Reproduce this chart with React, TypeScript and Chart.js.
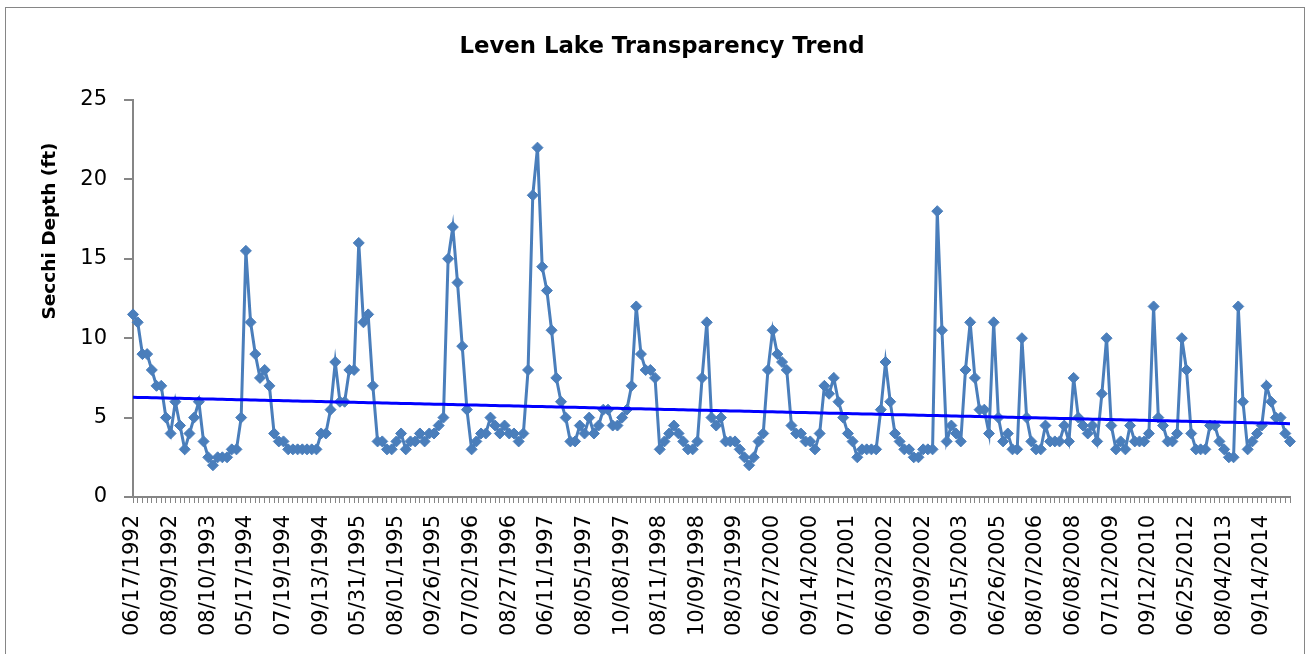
import React, { useEffect, useRef } from "react";
import { Chart, registerables } from "chart.js";

Chart.register(...registerables);

const titleText = "Leven Lake Transparency Trend";
const yAxisTitle = "Secchi Depth (ft)";

// every 8th sample date is shown on the axis
const labelEvery = 8;
const tickLabels = [
  "06/17/1992", "08/09/1992", "08/10/1993", "05/17/1994", "07/19/1994",
  "09/13/1994", "05/31/1995", "08/01/1995", "09/26/1995", "07/02/1996",
  "08/27/1996", "06/11/1997", "08/05/1997", "10/08/1997", "08/11/1998",
  "10/09/1998", "08/03/1999", "06/27/2000", "09/14/2000", "07/17/2001",
  "06/03/2002", "09/09/2002", "09/15/2003", "06/26/2005", "08/07/2006",
  "06/08/2008", "07/12/2009", "09/12/2010", "06/25/2012", "08/04/2013",
  "09/14/2014",
];

// Secchi depth readings (ft), one per sample in order
const secchiDepth = [
  11.5, 11, 9, 9, 8, 7, 7, 5, 4, 6, 4.5, 3, 4, 5, 6, 3.5, 2.5, 2, 2.5, 2.5, 2.5, 3, 3, 5, 15.5,
  11, 9, 7.5, 8, 7, 4, 3.5, 3.5, 3, 3, 3, 3, 3, 3, 3, 4, 4, 5.5, 8.5, 6, 6, 8, 8, 16, 11, 11.5, 7,
  3.5, 3.5, 3, 3, 3.5, 4, 3, 3.5, 3.5, 4, 3.5, 4, 4, 4.5, 5, 15, 17, 13.5, 9.5, 5.5, 3,
  3.5, 4, 4, 5, 4.5, 4, 4.5, 4, 4, 3.5, 4, 8, 19, 22, 14.5, 13, 10.5, 7.5, 6, 5,
  3.5, 3.5, 4.5, 4, 5, 4, 4.5, 5.5, 5.5, 4.5, 4.5, 5, 5.5, 7, 12, 9, 8, 8, 7.5,
  3, 3.5, 4, 4.5, 4, 3.5, 3, 3, 3.5,
  7.5, 11, 5, 4.5, 5, 3.5, 3.5, 3.5, 3, 2.5, 2, 2.5, 3.5, 4, 8, 10.5, 9, 8.5, 8, 4.5,
  4, 4, 3.5, 3.5, 3, 4, 7, 6.5, 7.5, 6, 5, 4, 3.5, 2.5, 3, 3, 3, 3, 5.5, 8.5, 6,
  4, 3.5, 3, 3, 2.5, 2.5, 3, 3, 3, 18, 10.5, 3.5, 4.5, 4, 3.5, 8, 11, 7.5, 5.5, 5.5,
  4, 11, 5, 3.5, 4, 3, 3, 10, 5, 3.5, 3, 3, 4.5, 3.5, 3.5, 3.5, 4.5, 3.5,
  7.5, 5, 4.5, 4, 4.5, 3.5, 6.5, 10, 4.5, 3, 3.5, 3, 4.5, 3.5, 3.5, 3.5, 4, 12, 5, 4.5,
  3.5, 3.5, 4, 10, 8, 4, 3, 3, 3, 4.5, 4.5, 3.5, 3, 2.5, 2.5, 12, 6, 3, 3.5, 4,
  4.5, 7, 6, 5, 5, 4, 3.5,
];

const yTicks = { min: 0, max: 25, step: 5 };

function linearTrend(values: number[]): number[] {
  const n = values.length;
  let sx = 0, sy = 0, sxx = 0, sxy = 0;
  values.forEach((v, i) => {
    sx += i; sy += v; sxx += i * i; sxy += i * v;
  });
  const b = (n * sxy - sx * sy) / (n * sxx - sx * sx);
  const a = (sy - b * sx) / n;
  return values.map((_, i) => a + b * i);
}

const FONT = "'DejaVu Sans', sans-serif";

const titlesPlugin = {
  id: "titles",
  afterDraw(chart: any) {
    const ctx = chart.ctx;
    ctx.save();
    ctx.fillStyle = "#000";
    ctx.textAlign = "center";
    ctx.textBaseline = "middle";
    ctx.font = `bold 22.8px ${FONT}`;
    ctx.fillText(titleText, 662, 47);
    ctx.translate(50, 231);
    ctx.rotate(-Math.PI / 2);
    ctx.font = `bold 18.5px ${FONT}`;
    ctx.fillText(yAxisTitle, 0, 0);
    ctx.restore();
  },
};

export default function App() {
  const ref = useRef<HTMLCanvasElement | null>(null);

  useEffect(() => {
    if (!ref.current) return;
    const axisColor = "#868686";
    const chart = new Chart(ref.current, {
      type: "line",
      plugins: [titlesPlugin],
      data: {
        labels: secchiDepth.map((_, i) => String(i)),
        datasets: [
          {
            label: "Trend",
            data: linearTrend(secchiDepth),
            borderColor: "#0000FF",
            borderWidth: 3,
            pointRadius: 0,
            order: 0,
          },
          {
            label: "Secchi Depth",
            data: secchiDepth,
            borderColor: "#4A7EBB",
            backgroundColor: "#4A7EBB",
            borderWidth: 3,
            pointStyle: "rectRot",
            pointRadius: 5.5,
            pointBackgroundColor: "#4A7EBB",
            pointBorderColor: "#4A7EBB",
            pointBorderWidth: 1,
            tension: 0,
            order: 1,
          },
        ],
      },
      options: {
        animation: false,
        responsive: false,
        maintainAspectRatio: false,
        layout: { padding: { left: 0, right: 19, top: 100, bottom: 0 } },
        plugins: {
          legend: { display: false },
          tooltip: { enabled: false },
          title: { display: false },
        },
        scales: {
          x: {
            type: "category",
            offset: false,
            grid: {
              drawOnChartArea: false,
              drawTicks: true,
              tickLength: 6,
              color: axisColor,
              lineWidth: 1,
              offset: false,
            },
            border: { display: true, color: axisColor, width: 2 },
            ticks: {
              autoSkip: false,
              minRotation: 90,
              maxRotation: 90,
              padding: 12,
              color: "#000",
              font: { family: FONT, size: 21 },
              callback: (_v: any, i: number) =>
                i % labelEvery === 0 ? tickLabels[i / labelEvery] ?? "" : "",
            },
            afterFit: (s: any) => {
              s.height = 157;
              s.paddingLeft = 0;
              s.paddingRight = 0;
            },
          },
          y: {
            min: yTicks.min,
            max: yTicks.max,
            ticks: {
              stepSize: yTicks.step,
              padding: 17,
              color: "#000",
              font: { family: FONT, size: 21 },
            },
            grid: {
              drawOnChartArea: false,
              drawTicks: true,
              tickLength: 9,
              color: axisColor,
              lineWidth: 2,
            },
            border: { display: true, color: axisColor, width: 2 },
            afterFit: (s: any) => {
              s.width = 133;
              s.paddingTop = 0;
              s.paddingBottom = 0;
            },
          },
        },
      },
    });
    return () => chart.destroy();
  }, []);

  return (
    <div style={{ position: "absolute", left: 0, top: 0, width: 1309, height: 654, background: "#fff", overflow: "hidden" }}>
      <canvas ref={ref} width={1309} height={654} style={{ display: "block" }} />
      <div
        style={{
          position: "absolute",
          left: 5,
          top: 7,
          width: 1298,
          height: 700,
          border: "1px solid #868686",
          pointerEvents: "none",
        }}
      />
    </div>
  );
}
